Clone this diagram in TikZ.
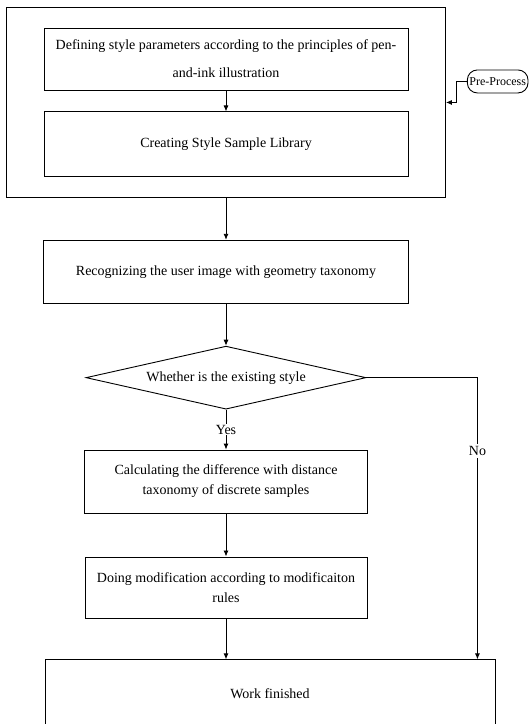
\documentclass[tikz,border=0pt]{standalone}
\usepackage{fontspec}
\setmainfont{Liberation Serif}
\usetikzlibrary{positioning}
\usetikzlibrary{fit}
\usetikzlibrary{shapes.geometric}
\usetikzlibrary{arrows.meta}

\begin{document}
\begin{tikzpicture}[>={Latex[length=6pt,width=5pt]}, line width=0.9pt,
  every node/.style = {font=\fontsize{14}{20}\selectfont},
  box/.style = {shape=rectangle, draw, align=center, minimum height=63pt},
  test/.style = {shape=diamond, draw, aspect=4.4, inner sep=1pt, minimum width=280pt, minimum height=63pt},
  side/.style = {shape=rectangle, draw, rounded corners=10pt, minimum height=23pt, inner xsep=2pt, font=\fontsize{12}{14}\selectfont}]
  \useasboundingbox (0,0) rectangle (532pt,-724pt);
  \node (def) [box, minimum width=364pt, minimum height=62pt] at (226pt,-59pt) {Defining style parameters according to the principles of pen-\\[8pt]and-ink illustration};
  \node (lib) [box, minimum width=364pt, minimum height=65pt, below=21pt of def] {Creating Style Sample Library} edge [<-] (def);
  \node (pre) [draw, fit=(def)(lib), inner xsep=37pt, inner ysep=20pt] {};
  \node (pp) [side, right=21pt of pre, yshift=21pt] {Pre-Process};
  \draw [->] (pp.west) -- ++(-10pt,0) |- (pre.east);

  \node (rec) [box, minimum width=365pt, below=42pt of pre] {Recognizing the user image with geometry taxonomy} edge [<-] (pre);
  \node (sty) [test, below=42pt of rec] {Whether is the existing style} edge [<-] (rec);
  \node (calc) [box, minimum width=283pt, below=40pt of sty] {Calculating the difference with distance\\taxonomy of discrete samples};
  \draw [->] (sty) -- node [fill=white, inner sep=1pt] {Yes} (calc);
  \node (mod) [box, minimum width=282pt, minimum height=61pt, below=43pt of calc] {Doing modification according to modificaiton\\rules} edge [<-] (calc);
  \node (done) [box, minimum width=450pt, minimum height=68pt, below=41pt of mod, xshift=44pt] {Work finished};
  \draw [->] (mod.south) -- (mod.south |- done.north);
  \draw [->] (sty.east) -| node [pos=0.63, fill=white, inner sep=2pt] {No} ([xshift=-18pt]done.north east);

\end{tikzpicture}
\end{document}
